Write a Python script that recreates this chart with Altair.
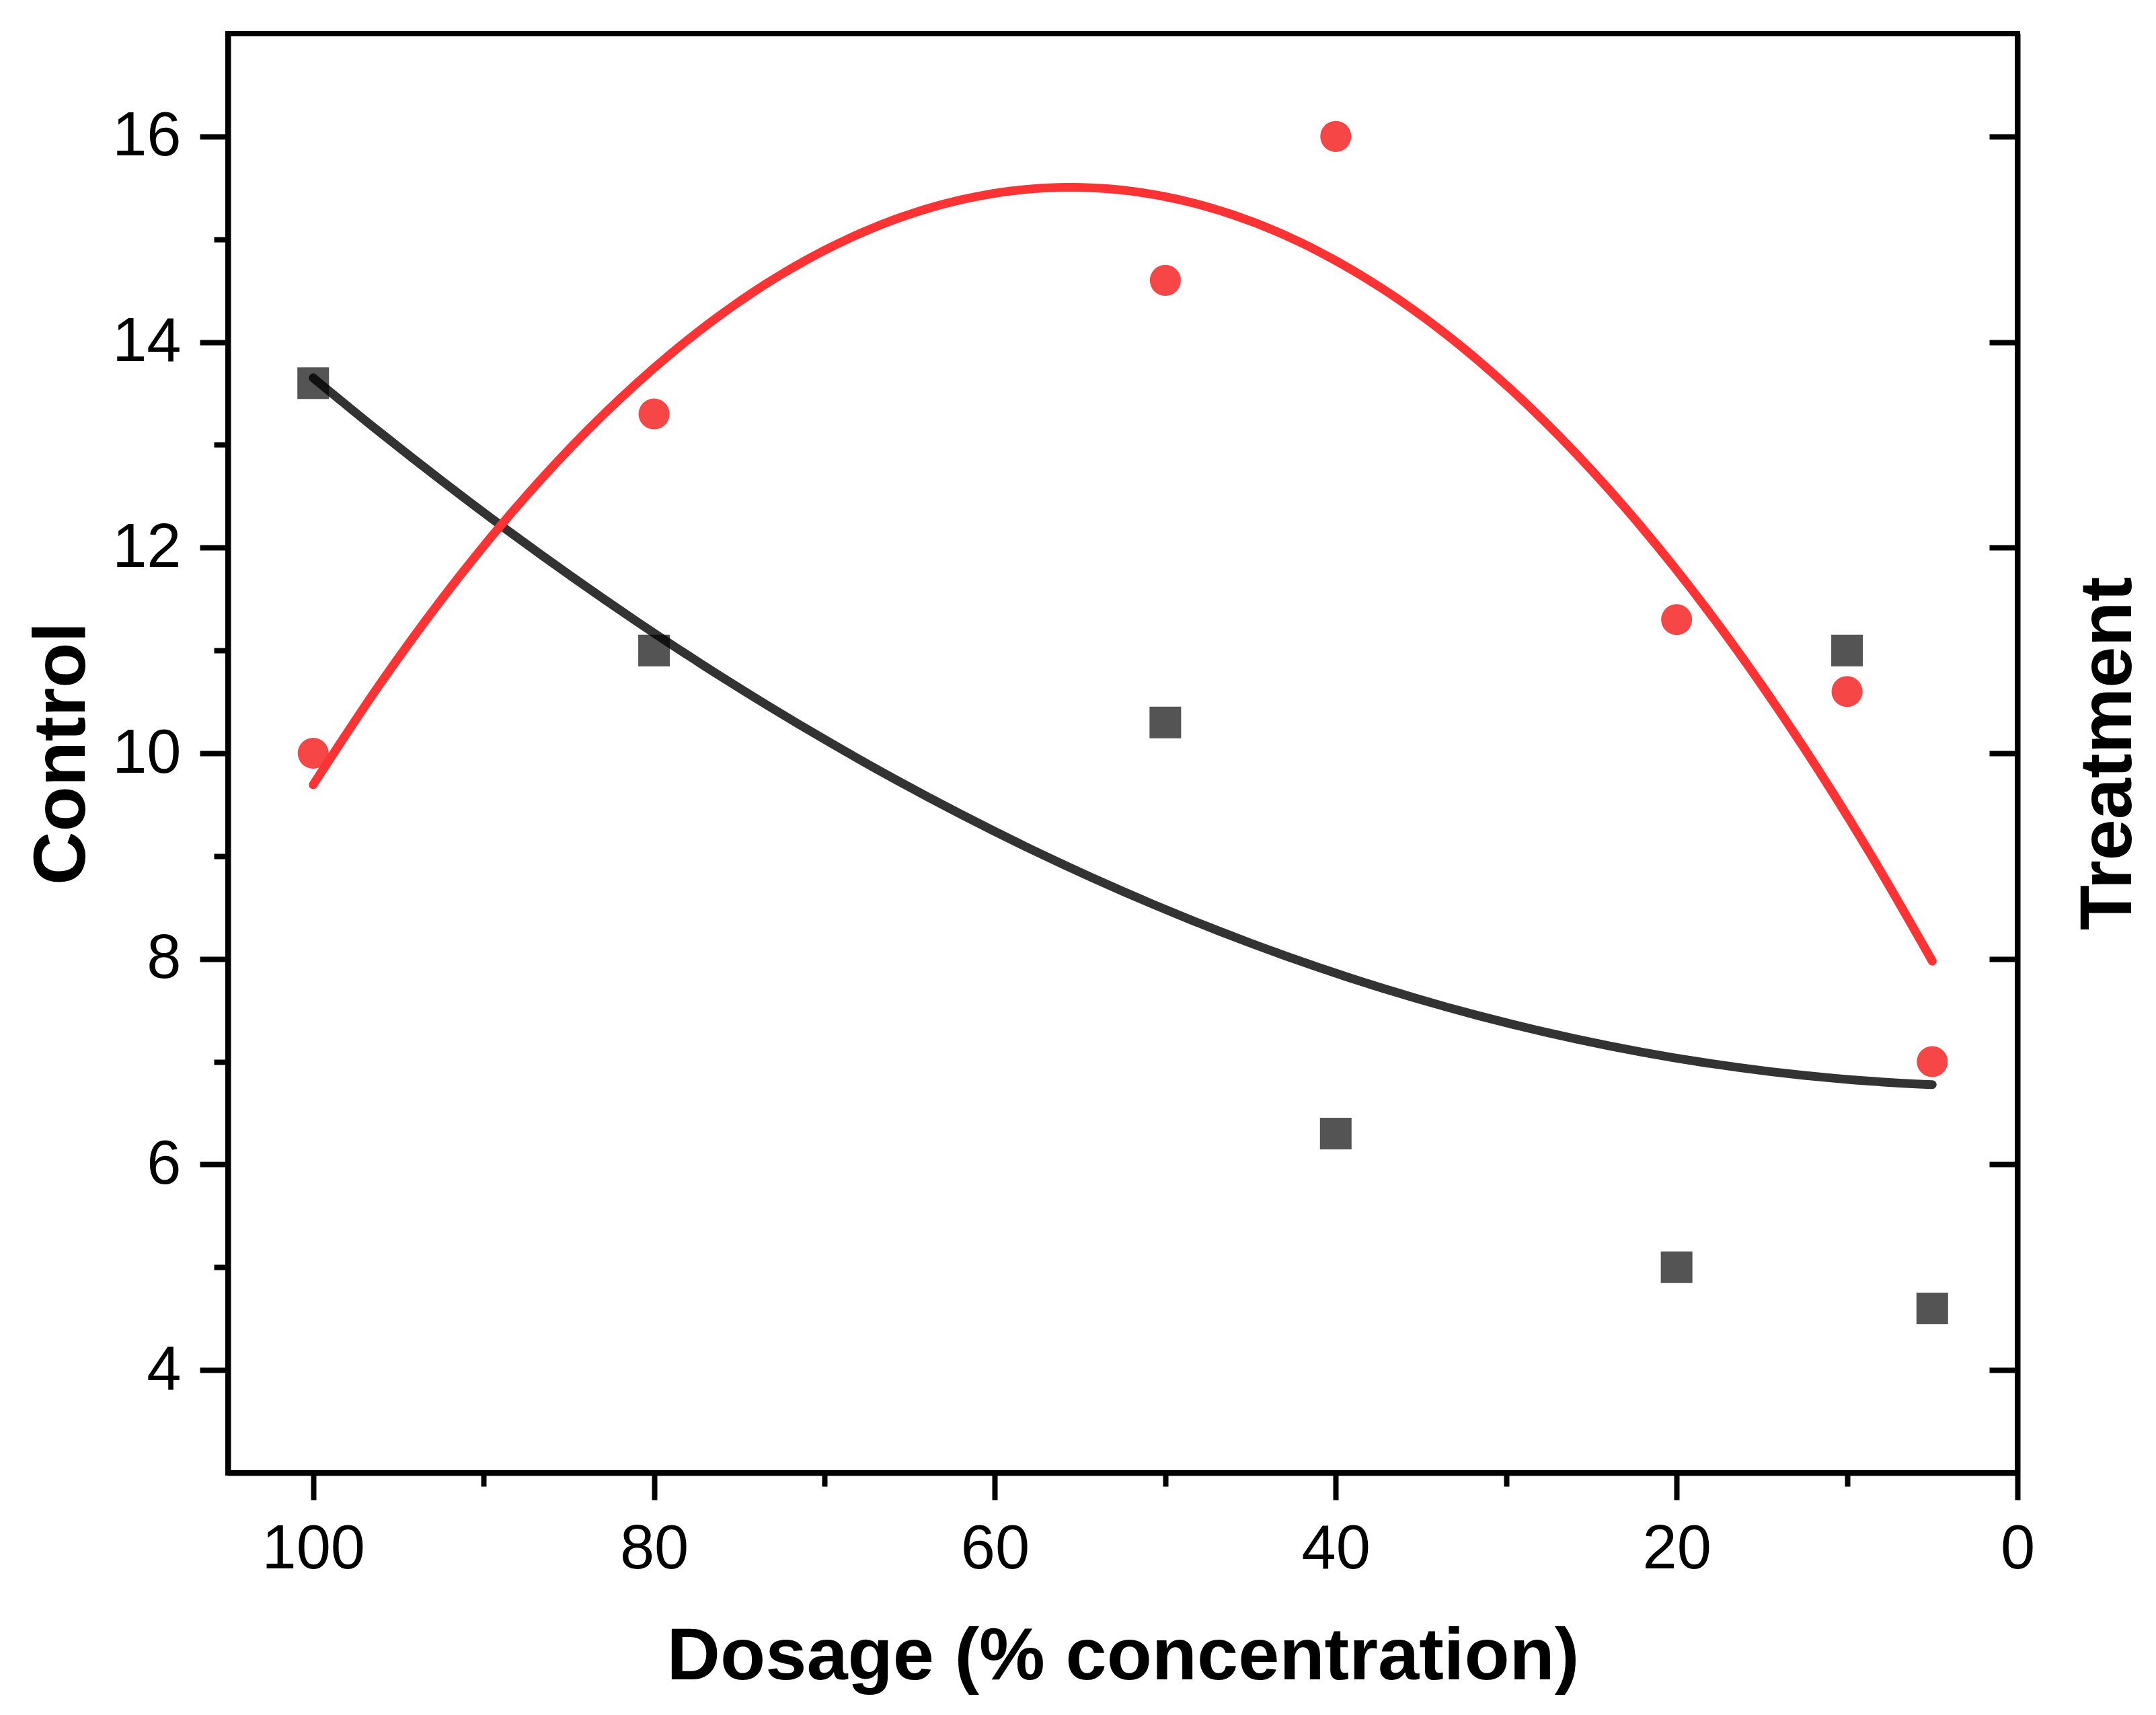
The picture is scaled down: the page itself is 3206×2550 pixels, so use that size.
import pandas as pd
import altair as alt

# values
dosage = [100, 80, 50, 40, 20, 10, 5]
control = [13.6, 11.0, 10.3, 6.3, 5.0, 11.0, 4.6]
treatment = [10.0, 13.3, 14.6, 16.0, 11.3, 10.6, 7.0]

x_ticks = [0, 10, 20, 30, 40, 50, 60, 70, 80, 90, 100]
y_ticks = [4, 5, 6, 7, 8, 9, 10, 11, 12, 13, 14, 15, 16]
y_right_ticks = [4, 6, 8, 10, 12, 14, 16]

ctrl_df = pd.DataFrame({"dosage": dosage, "value": control})
trt_df = pd.DataFrame({"dosage": dosage, "value": treatment})

FONT = "Liberation Sans"

x_scale = alt.Scale(domain=[105, 0], nice=False)
y_scale = alt.Scale(domain=[3, 17], nice=False)

x_enc = alt.X(
    "dosage:Q",
    scale=x_scale,
    axis=alt.Axis(
        orient="bottom",
        values=x_ticks,
        labelExpr="datum.value % 20 === 0 ? datum.label : ''",
        tickSize={"condition": {"test": "datum.value % 20 === 0", "value": 40}, "value": 20},
        labelPadding=28,
        labelFlush=False,
        labelOverlap=False,
        title="Dosage (% concentration)",
        titlePadding=60,
    ),
)

y_left = alt.Y(
    "value:Q",
    scale=y_scale,
    axis=alt.Axis(
        orient="left",
        values=y_ticks,
        labelExpr="datum.value % 2 === 0 ? datum.label : ''",
        tickSize={"condition": {"test": "datum.value % 2 === 0", "value": 42}, "value": 21},
        labelPadding=28,
        labelOverlap=False,
        title="Control",
        titlePadding=18,
    ),
)

y_right = alt.Y(
    "value:Q",
    scale=y_scale,
    axis=alt.Axis(
        orient="right",
        values=y_right_ticks,
        labels=False,
        tickSize={"expr": "-42"},
        title="Treatment",
        titleAngle=270,
        titleBaseline="top",
        titlePadding=77,
    ),
)

# control: grey squares + black quadratic fit
ctrl_pts = alt.Chart(ctrl_df).mark_square(size=2209, color="#545454", opacity=1).encode(x=x_enc, y=y_left)
ctrl_fit = (
    alt.Chart(ctrl_df)
    .transform_regression("dosage", "value", method="poly", order=2)
    .mark_line(color="black", opacity=0.8, strokeWidth=13, strokeCap="round", interpolate="monotone")
    .encode(x=x_enc, y=y_left)
)

# treatment: red circles + red quadratic fit
trt_pts = alt.Chart(trt_df).mark_circle(size=2124, color="#F64646", opacity=1).encode(x=x_enc, y=y_right)
trt_fit = (
    alt.Chart(trt_df)
    .transform_regression("dosage", "value", method="poly", order=2)
    .mark_line(color="#FF3333", strokeWidth=13, strokeCap="round", interpolate="monotone")
    .encode(x=x_enc, y=y_right)
)

left = alt.layer(ctrl_pts, ctrl_fit)
right = alt.layer(trt_pts, trt_fit)

chart = (
    alt.layer(left, right)
    .resolve_axis(y="independent")
    .properties(
        width=2661,
        height=2140,
        autosize=alt.AutoSizeParams(type="none"),
        padding={"left": 331, "top": 42, "right": 190, "bottom": 340},
    )
    .configure(background="white")
    .configure_view(stroke="black", strokeWidth=8)
    .configure_axis(
        grid=False,
        domainColor="black",
        domainWidth=8,
        tickColor="black",
        tickWidth=8,
        labelFont=FONT,
        labelFontSize=92,
        labelColor="black",
        titleFont=FONT,
        titleFontSize=110,
        titleFontWeight="bold",
        titleColor="black",
    )
)

chart.save("out.html", embed_options={"renderer": "svg", "actions": False})
